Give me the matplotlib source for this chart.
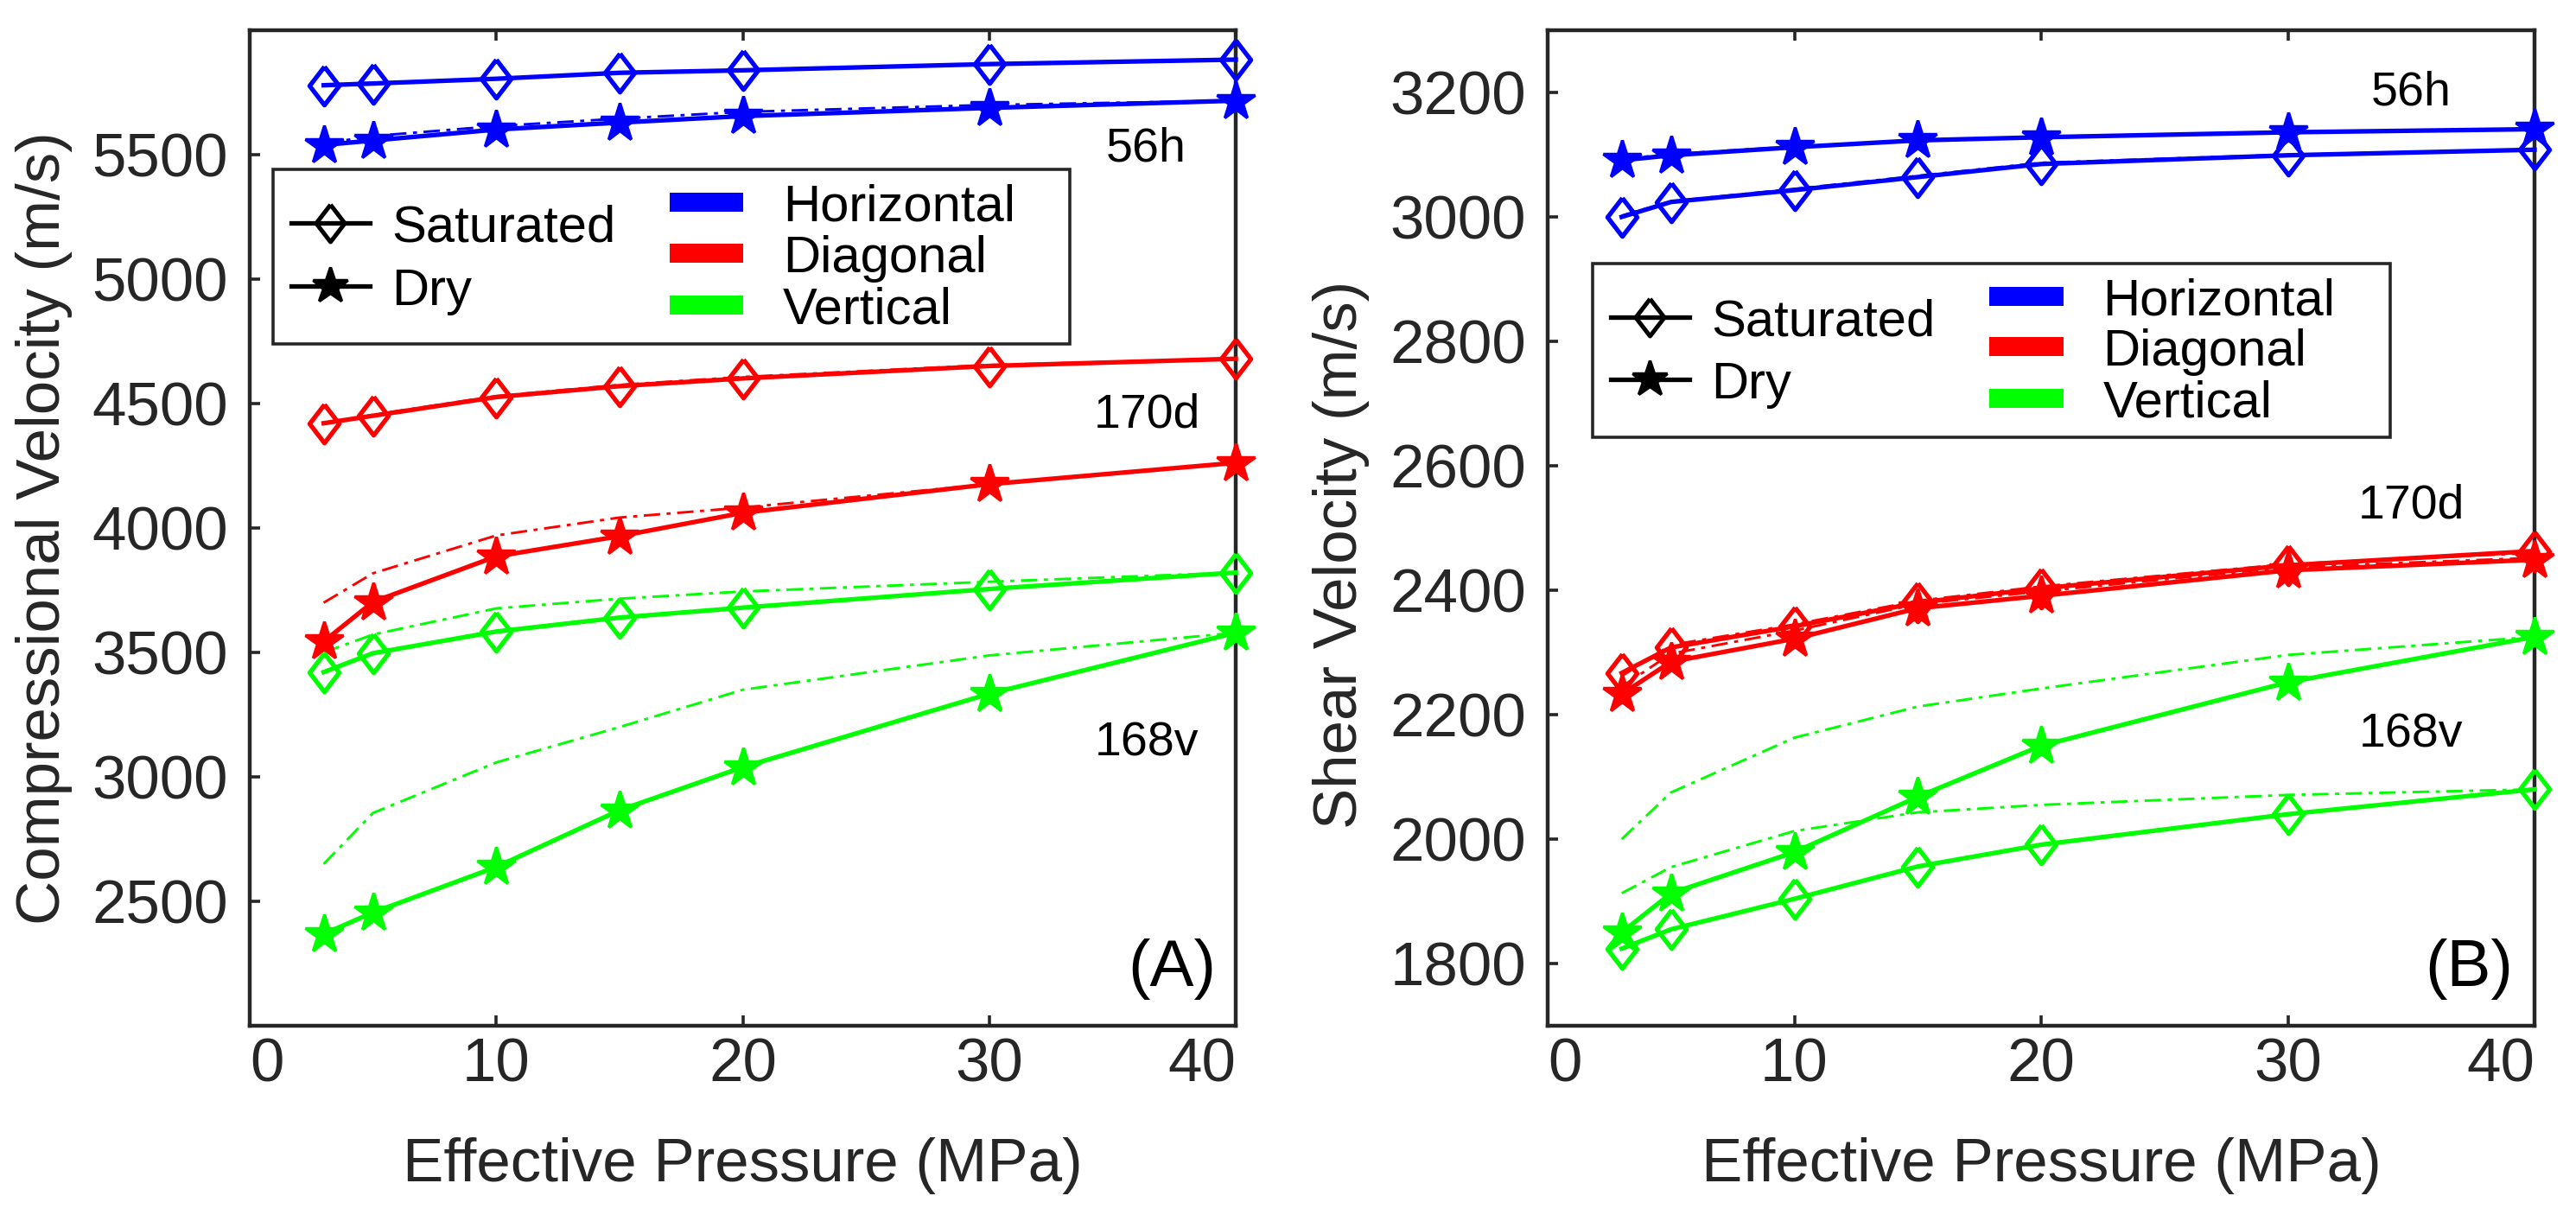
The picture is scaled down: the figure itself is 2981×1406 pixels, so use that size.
import matplotlib
matplotlib.use("Agg")
import matplotlib.pyplot as plt
from matplotlib.patches import Rectangle

plt.rcParams['font.family'] = ['Liberation Sans', 'DejaVu Sans']

# effective pressure (MPa)
pressure = [3, 5, 10, 15, 20, 30, 40]

# (A) compressional velocity, m/s  -- measured (markers) and dash-dot curves
vp_h_sat = [5779, 5786, 5805, 5829, 5839, 5864, 5882]
vp_h_sat_dd = [5781, 5788, 5806, 5830, 5841, 5865, 5882]
vp_h_dry = [5539, 5557, 5601, 5629, 5655, 5688, 5717]
vp_h_dry_dd = [5545, 5575, 5615, 5645, 5672, 5700, 5717]
vp_d_sat = [4421, 4451, 4526, 4570, 4601, 4651, 4680]
vp_d_sat_dd = [4418, 4455, 4530, 4575, 4607, 4655, 4680]
vp_d_dry = [3544, 3703, 3886, 3967, 4061, 4176, 4262]
vp_d_dry_dd = [3700, 3818, 3970, 4042, 4082, 4176, 4262]
vp_v_sat = [3421, 3497, 3584, 3640, 3680, 3755, 3821]
vp_v_sat_dd = [3500, 3572, 3677, 3716, 3745, 3784, 3821]
vp_v_dry = [2369, 2455, 2638, 2866, 3039, 3334, 3579]
vp_v_dry_dd = [2650, 2855, 3058, 3200, 3350, 3488, 3579]

# (B) shear velocity, m/s
vs_h_sat = [3000, 3024, 3043, 3064, 3085, 3099, 3108]
vs_h_sat_dd = [3002, 3025, 3045, 3066, 3087, 3100, 3108]
vs_h_dry = [3091, 3099, 3112, 3123, 3128, 3136, 3141]
vs_h_dry_dd = [3093, 3101, 3113, 3123, 3129, 3136, 3141]
vs_d_sat = [2267, 2308, 2342, 2380, 2403, 2440, 2463]
vs_d_sat_dd = [2262, 2312, 2345, 2383, 2406, 2442, 2460]
vs_d_dry = [2233, 2285, 2322, 2371, 2391, 2432, 2449]
vs_d_dry_dd = [2245, 2298, 2335, 2378, 2398, 2437, 2452]
vs_v_sat = [1824, 1855, 1904, 1956, 1991, 2040, 2080]
vs_v_sat_dd = [1913, 1955, 2013, 2043, 2055, 2071, 2080]
vs_v_dry = [1850, 1913, 1979, 2068, 2150, 2252, 2325]
vs_v_dry_dd = [2000, 2075, 2163, 2213, 2242, 2296, 2325]

BLUE = (0, 0, 1)
RED = (1, 0, 0)
GREEN = (0, 1, 0)
DARK = '#262626'
DIAMOND = [(0, 1), (0.77, 0), (0, -1), (-0.77, 0), (0, 1)]
DASHDOT = (0, (6.5, 2.6, 1.6, 2.6))


def draw_pair(ax, sat, sat_dd, dry, dry_dd, col):
    ax.plot(pressure, sat_dd, color=col, lw=2.1, ls=DASHDOT, clip_on=False, zorder=2)
    ax.plot(pressure, dry_dd, color=col, lw=2.1, ls=DASHDOT, clip_on=False, zorder=2)
    ax.plot(pressure, sat, color=col, lw=3.8, marker=DIAMOND, ms=32,
            mfc='none', mec=col, mew=3.8, clip_on=False, zorder=3)
    ax.plot(pressure, dry, color=col, lw=3.8, marker='*', ms=33,
            mfc=col, mec=col, mew=2.5, clip_on=False, zorder=3)


def draw_key(ax, x0, y0):
    tr = ax.transAxes
    ax.add_patch(Rectangle((x0, y0), 0.808, 0.175, transform=tr, facecolor='white',
                           edgecolor=DARK, lw=2.6, zorder=5))
    for dy, mk, lab in [(0.121, DIAMOND, 'Saturated'), (0.058, '*', 'Dry')]:
        ax.plot([x0 + 0.018, x0 + 0.098], [y0 + dy] * 2, transform=tr, color='k',
                lw=3.8, zorder=6, clip_on=False)
        if mk == '*':
            ax.plot([x0 + 0.058], [y0 + dy], transform=tr, marker=mk, ms=31, color='k',
                    mew=2.5, zorder=7, clip_on=False)
        else:
            ax.plot([x0 + 0.058], [y0 + dy], transform=tr, marker=mk, ms=31, mfc='none',
                    mec='k', mew=3.6, zorder=7, clip_on=False)
        ax.text(x0 + 0.12, y0 + dy, lab, transform=tr, fontsize=43, color='k',
                va='center_baseline', ha='left', zorder=7)
    for dy, col, lab in [(0.142, BLUE, 'Horizontal'), (0.091, RED, 'Diagonal'),
                         (0.039, GREEN, 'Vertical')]:
        ax.add_patch(Rectangle((x0 + 0.402, y0 + dy - 0.0095), 0.075, 0.019, transform=tr,
                               facecolor=col, edgecolor='none', zorder=6))
        ax.text(x0 + 0.517, y0 + dy, lab, transform=tr, fontsize=43, color='k',
                va='center_baseline', ha='left', zorder=7)


def style_axes(ax, ylim, yticks, ylabel):
    ax.set_xlim(0, 40)
    ax.set_ylim(*ylim)
    ax.set_xticks([0, 10, 20, 30, 40])
    ax.set_yticks(yticks)
    for s in ax.spines.values():
        s.set_linewidth(3.2)
        s.set_color(DARK)
    ax.tick_params(direction='in', length=8.5, width=2.6, color=DARK,
                   labelsize=51, labelcolor=DARK, top=True, right=False)
    ax.tick_params(axis='x', pad=10)
    ax.tick_params(axis='y', pad=18)
    labs = ax.get_xticklabels()
    labs[0].set_ha('left')
    labs[-1].set_ha('right')
    ax.set_xlabel('Effective Pressure (MPa)', fontsize=51, color=DARK)
    ax.set_ylabel(ylabel, fontsize=51, color=DARK)
    ax.xaxis.set_label_coords(0.5, -0.112)
    ax.yaxis.set_label_coords(-0.18, 0.5)


fig = plt.figure(figsize=(29.81, 14.06), dpi=100)
axA = fig.add_axes([289 / 2981, 219 / 1406, 1141 / 2981, 1152 / 1406])
axB = fig.add_axes([1791 / 2981, 219 / 1406, 1142 / 2981, 1152 / 1406])

# panel A
draw_pair(axA, vp_h_sat, vp_h_sat_dd, vp_h_dry, vp_h_dry_dd, BLUE)
draw_pair(axA, vp_d_sat, vp_d_sat_dd, vp_d_dry, vp_d_dry_dd, RED)
draw_pair(axA, vp_v_sat, vp_v_sat_dd, vp_v_dry, vp_v_dry_dd, GREEN)
style_axes(axA, (2000, 6000), [2500, 3000, 3500, 4000, 4500, 5000, 5500],
           'Compressional Velocity (m/s)')
draw_key(axA, 0.0237, 0.685)
axA.text(36.35, 5524, '56h', fontsize=40, ha='center', va='center')
axA.text(36.4, 4453, '170d', fontsize=40, ha='center', va='center')
axA.text(36.4, 3135, '168v', fontsize=40, ha='center', va='center')
axA.text(37.4, 2227, '(A)', fontsize=55, ha='center', va='center')

# panel B
draw_pair(axB, vs_h_sat, vs_h_sat_dd, vs_h_dry, vs_h_dry_dd, BLUE)
draw_pair(axB, vs_d_sat, vs_d_sat_dd, vs_d_dry, vs_d_dry_dd, RED)
draw_pair(axB, vs_v_sat, vs_v_sat_dd, vs_v_dry, vs_v_dry_dd, GREEN)
style_axes(axB, (1700, 3300), [1800, 2000, 2200, 2400, 2600, 2800, 3000, 3200],
           'Shear Velocity (m/s)')
axB.yaxis.set_label_coords(-0.18, 0.473)
draw_key(axB, 0.0455, 0.591)
axB.text(35.0, 3200, '56h', fontsize=40, ha='center', va='center')
axB.text(35.0, 2535, '170d', fontsize=40, ha='center', va='center')
axB.text(35.0, 2167, '168v', fontsize=40, ha='center', va='center')
axB.text(37.35, 1791, '(B)', fontsize=55, ha='center', va='center')

fig.savefig('out.png', dpi=100)
